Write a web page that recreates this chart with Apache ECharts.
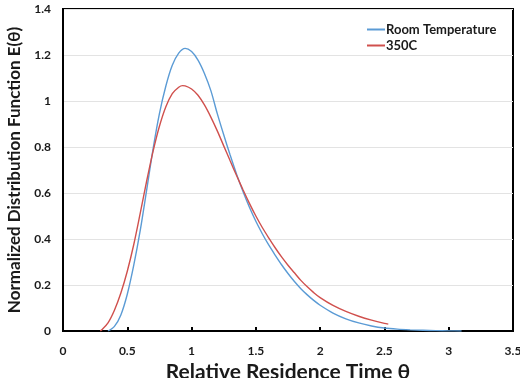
<!DOCTYPE html>
<html>
<head>
<meta charset="utf-8">
<script src="https://cdn.jsdelivr.net/npm/echarts@6/dist/echarts.min.js"></script>
<style>
  html, body { margin: 0; padding: 0; background: #fff; }
  #chart { width: 520px; height: 378px; }
</style>
</head>
<body>
<div id="chart"></div>
<script>
// values
const roomTheta = [0.35, 0.40, 0.45, 0.50, 0.55, 0.60, 0.65, 0.70, 0.75, 0.80, 0.85, 0.90, 0.95, 1.00, 1.05, 1.10, 1.15, 1.20, 1.25, 1.30, 1.35, 1.40, 1.45, 1.50, 1.55, 1.60, 1.65, 1.70, 1.75, 1.80, 1.85, 1.90, 1.95, 2.00, 2.10, 2.20, 2.30, 2.40, 2.50, 2.60, 2.70, 2.80, 2.90, 3.00, 3.10];
const roomE = [0, 0.02, 0.07, 0.16, 0.285, 0.435, 0.61, 0.79, 0.945, 1.065, 1.155, 1.208, 1.229, 1.215, 1.178, 1.12, 1.045, 0.945, 0.853, 0.765, 0.682, 0.606, 0.538, 0.477, 0.423, 0.374, 0.33, 0.288, 0.25, 0.215, 0.184, 0.157, 0.133, 0.112, 0.078, 0.053, 0.035, 0.022, 0.013, 0.008, 0.005, 0.003, 0.0015, 0.0007, 0];

const hotTheta = [0.29, 0.30, 0.35, 0.40, 0.45, 0.50, 0.55, 0.60, 0.65, 0.70, 0.75, 0.80, 0.85, 0.90, 0.93, 0.95, 1.00, 1.05, 1.10, 1.15, 1.20, 1.25, 1.30, 1.35, 1.40, 1.45, 1.50, 1.55, 1.60, 1.65, 1.70, 1.75, 1.80, 1.85, 1.90, 1.95, 2.00, 2.10, 2.20, 2.30, 2.40, 2.50, 2.53];
const hotE = [0, 0.004, 0.035, 0.09, 0.165, 0.26, 0.375, 0.51, 0.65, 0.78, 0.89, 0.975, 1.032, 1.06, 1.067, 1.066, 1.052, 1.025, 0.983, 0.93, 0.87, 0.805, 0.74, 0.676, 0.614, 0.555, 0.50, 0.45, 0.405, 0.362, 0.322, 0.286, 0.253, 0.22, 0.192, 0.167, 0.145, 0.111, 0.085, 0.064, 0.047, 0.033, 0.03];

const seriesNames = ["Room Temperature", "350C"];
const xTitle = "Relative Residence Time θ";
const yTitle = "Normalized Distribution Function E(θ)";

const FONT = "Lato, 'Liberation Sans', sans-serif";
const INK = "#1a1a1a";

const pairs = (xs, ys) => xs.map((x, i) => [x, ys[i]]);

const chart = echarts.init(document.getElementById("chart"), null, { renderer: "canvas" });

chart.setOption({
  animation: false,
  backgroundColor: "#fff",
  textStyle: { fontFamily: FONT },
  // plot frame drawn by the grid border; keep the plot box fixed (no label containment)
  grid: {
    show: true,
    left: 63, right: 7, top: 9, bottom: 47,
    containLabel: false,
    outerBoundsMode: "none",
    borderColor: "#000",
    borderWidth: 2,
  },
  legend: {
    orient: "vertical",
    left: 362, top: 18,
    itemGap: 3,
    itemWidth: 18,
    itemHeight: 2,
    icon: "rect",
    data: seriesNames,
    textStyle: { fontFamily: FONT, fontWeight: "bold", fontSize: 13, color: INK, padding: [0, 0, 0, -4] },
  },
  xAxis: {
    type: "value",
    min: 0, max: 3.5, interval: 0.5,
    name: xTitle,
    nameLocation: "middle",
    nameGap: 24,
    nameTextStyle: { fontFamily: FONT, fontWeight: "bold", fontSize: 21, color: INK },
    axisLine: { lineStyle: { color: "#000", width: 2 } },
    axisTick: { show: true, inside: true, length: 4, lineStyle: { color: "#000", width: 2 } },
    axisLabel: { fontFamily: FONT, fontWeight: "bold", fontSize: 12, color: INK, margin: 14 },
    splitLine: { show: false },
  },
  yAxis: {
    type: "value",
    min: 0, max: 1.4, interval: 0.2,
    name: yTitle,
    nameLocation: "middle",
    nameGap: 34,
    nameTextStyle: { fontFamily: FONT, fontWeight: "bold", fontSize: 17, color: INK },
    axisLine: { show: true, lineStyle: { color: "#000", width: 2 } },
    axisTick: { show: false },
    axisLabel: { fontFamily: FONT, fontWeight: "bold", fontSize: 12, color: INK, margin: 12 },
    splitLine: { lineStyle: { color: "#e3e3e3", width: 1 } },
  },
  series: [
    {
      name: seriesNames[0],
      type: "line",
      data: pairs(roomTheta, roomE),
      showSymbol: false,
      smooth: 0.3,
      color: "#5b9bd5",
      lineStyle: { width: 1.4, color: "#5b9bd5" },
    },
    {
      name: seriesNames[1],
      type: "line",
      data: pairs(hotTheta, hotE),
      showSymbol: false,
      smooth: 0.3,
      color: "#d0504d",
      lineStyle: { width: 1.4, color: "#d0504d" },
    },
  ],
});
</script>
</body>
</html>
